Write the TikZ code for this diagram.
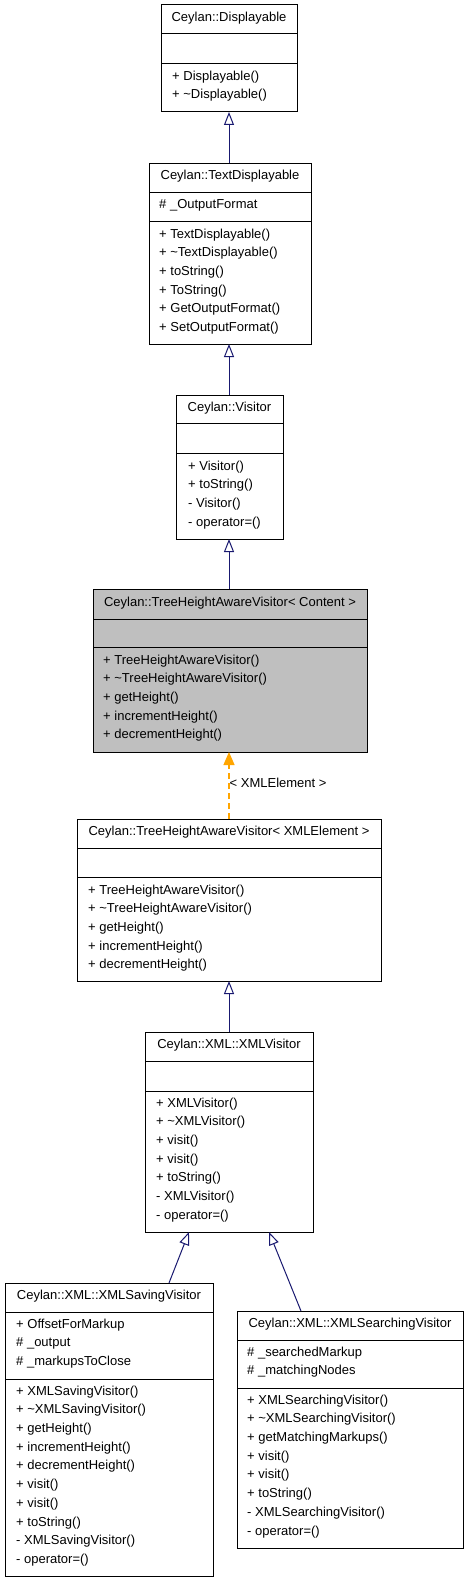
\documentclass[tikz,border=0pt]{standalone}
\usepackage{fontspec}
\setmainfont{Liberation Sans}
\usetikzlibrary{arrows.meta,fit}
\definecolor{inhblue}{HTML}{191970}
\definecolor{tplorange}{HTML}{FFA500}
\definecolor{curgray}{HTML}{BFBFBF}
\tikzset{
  cbox/.style={draw=black, line width=1bp, inner sep=0pt},
  sepline/.style={draw=black, line width=1bp},
  txt/.style={font=\fontsize{13bp}{15bp}\selectfont, inner sep=0pt, text height=9.3bp, text depth=2.7bp, anchor=west},
  ttl/.style={font=\fontsize{13bp}{15bp}\selectfont, inner sep=0pt, text height=9.3bp, text depth=2.7bp, anchor=center},
  inh/.style={draw=inhblue, line width=1bp, -{Triangle[open, length=13bp, width=10bp, line width=1bp]}},
  tpl/.style={color=tplorange, line width=1.2bp, dash pattern=on 6bp off 4bp, -{Triangle[length=13bp, width=11bp, fill=tplorange]}},
}
% name, L, T, R, B
\newcommand\classbox[6][white]{%
  \node[cbox, fill=#1, fit={(#3,#4) (#5,#6)}] (#2) {};}
% name, L, R, y
\newcommand\sepat[4]{\draw[sepline] (#2,#4) -- (#3,#4);}
% name, x, ystart, list
\newcommand\members[4]{%
  \foreach \t [count=\i] in {#4} {
    \node[txt] (#1m\i) at (#2, {#3+(\i-1)*18.67}) {\t};
  }}
\begin{document}
\begin{tikzpicture}[x=1bp, y=-1bp]
\fill[white] (0,0) rectangle (467,1581);
\useasboundingbox (0,0) rectangle (467,1581);

% --- Displayable
\classbox{b1}{161}{5}{297}{112}
\sepat{b1}{161}{297}{34}
\sepat{b1}{161}{297}{64}
\node[ttl] (b1t) at (229,18.5) {Ceylan::Displayable};
\members{b1}{172}{77}{+ Displayable(), + \textasciitilde Displayable()}

% --- TextDisplayable
\classbox{b2}{149}{163}{311}{344}
\sepat{b2}{149}{311}{192}
\sepat{b2}{149}{311}{221}
\node[ttl] (b2t) at (230,176) {Ceylan::TextDisplayable};
\members{b2a}{159}{205}{\# \_OutputFormat}
\members{b2}{159}{235}{+ TextDisplayable(), + \textasciitilde TextDisplayable(), + toString(), + ToString(), + GetOutputFormat(), + SetOutputFormat()}

% --- Visitor
\classbox{b3}{176}{395}{283}{539}
\sepat{b3}{176}{283}{423}
\sepat{b3}{176}{283}{453}
\node[ttl] (b3t) at (229.5,408) {Ceylan::Visitor};
\members{b3}{188}{467}{+ Visitor(), + toString(), - Visitor(), - operator=()}

% --- TreeHeightAwareVisitor< Content >
\classbox[curgray]{b4}{93}{589}{367}{752}
\sepat{b4}{93}{367}{619}
\sepat{b4}{93}{367}{647}
\node[ttl] (b4t) at (230,603) {Ceylan::TreeHeightAwareVisitor< Content >};
\members{b4}{103}{661}{+ TreeHeightAwareVisitor(), + \textasciitilde TreeHeightAwareVisitor(), + getHeight(), + incrementHeight(), + decrementHeight()}

% --- TreeHeightAwareVisitor< XMLElement >
\classbox{b5}{77}{819}{381}{981}
\sepat{b5}{77}{381}{848}
\sepat{b5}{77}{381}{877}
\node[ttl] (b5t) at (229,832) {Ceylan::TreeHeightAwareVisitor< XMLElement >};
\members{b5}{88}{891}{+ TreeHeightAwareVisitor(), + \textasciitilde TreeHeightAwareVisitor(), + getHeight(), + incrementHeight(), + decrementHeight()}

% --- XMLVisitor
\classbox{b6}{145}{1032}{313}{1232}
\sepat{b6}{145}{313}{1061}
\sepat{b6}{145}{313}{1091}
\node[ttl] (b6t) at (229,1045) {Ceylan::XML::XMLVisitor};
\members{b6}{156}{1104}{+ XMLVisitor(), + \textasciitilde XMLVisitor(), + visit(), + visit(), + toString(), - XMLVisitor(), - operator=()}

% --- XMLSavingVisitor
\classbox{b7}{5}{1283}{213}{1576}
\sepat{b7}{5}{213}{1312}
\sepat{b7}{5}{213}{1379}
\node[ttl] (b7t) at (109,1296) {Ceylan::XML::XMLSavingVisitor};
\members{b7a}{16}{1325}{+ OffsetForMarkup, \# \_output, \# \_markupsToClose}
\members{b7}{16}{1392}{+ XMLSavingVisitor(), + \textasciitilde XMLSavingVisitor(), + getHeight(), + incrementHeight(), + decrementHeight(), + visit(), + visit(), + toString(), - XMLSavingVisitor(), - operator=()}

% --- XMLSearchingVisitor
\classbox{b8}{237}{1311}{463}{1548}
\sepat{b8}{237}{463}{1340}
\sepat{b8}{237}{463}{1388}
\node[ttl] (b8t) at (350,1324) {Ceylan::XML::XMLSearchingVisitor};
\members{b8a}{247}{1353}{\# \_searchedMarkup, \# \_matchingNodes}
\members{b8}{247}{1401}{+ XMLSearchingVisitor(), + \textasciitilde XMLSearchingVisitor(), + getMatchingMarkups(), + visit(), + visit(), + toString(), - XMLSearchingVisitor(), - operator=()}

% --- connectors
\coordinate (c1s) at (229,112);
\coordinate (c2n) at (229,163);
\coordinate (c2s) at (229,344);
\coordinate (c3n) at (229,395);
\coordinate (c3s) at (229,539);
\coordinate (c4n) at (229,589);
\coordinate (c4s) at (229,752);
\coordinate (c5n) at (229,819);
\coordinate (c5s) at (229,981);
\coordinate (c6n) at (229,1032);
\coordinate (c6sl) at (189,1232);
\coordinate (c6sr) at (269,1232);
\coordinate (c7n) at (169,1283);
\coordinate (c8n) at (301,1311);

\draw[inh] (c2n) -- (c1s);
\draw[inh] (c3n) -- (c2s);
\draw[inh] (c4n) -- (c3s);
\draw[tpl] (c5n) -- (c4s);
\node[txt] (lbl) at (229.5,784) {< XMLElement >};
\draw[inh] (c6n) -- (c5s);
\draw[inh] (c7n) -- (c6sl);
\draw[inh] (c8n) -- (c6sr);
\end{tikzpicture}
\end{document}
